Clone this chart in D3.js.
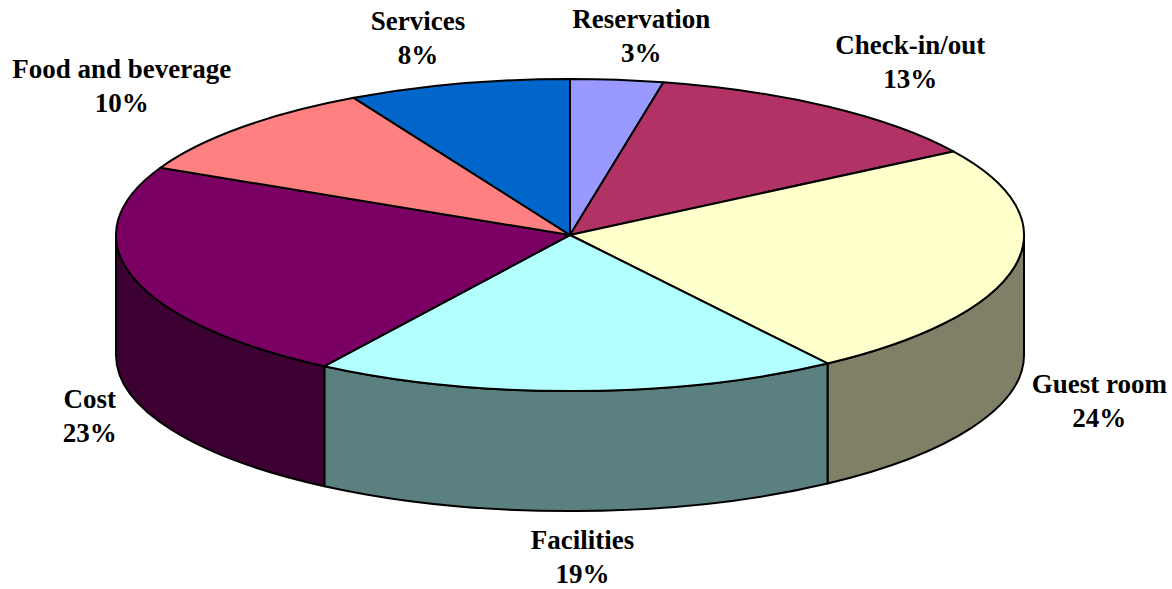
<!DOCTYPE html>
<html>
<head>
<meta charset="utf-8">
<script src="https://cdn.jsdelivr.net/npm/d3@7"></script>
<style>
  html, body { margin: 0; padding: 0; background: #fff; }
  svg { display: block; }
</style>
</head>
<body>
<div id="chart"></div>
<script>
// Data (percent shares, clockwise from 12 o'clock)
const categories = ['Reservation', 'Check-in/out', 'Guest room', 'Facilities', 'Cost', 'Food and beverage', 'Services'];
const values = [3.3, 12.7, 24.4, 18.7, 23.0, 10, 7.9];
const colors = ['#9999FF', '#B13366', '#FFFFCC', '#B3FFFF', '#7A0064', '#FF8080', '#0066CC'];

// small hand nudges for the label boxes (Excel placed them a bit loosely)
const labelNudge = [[13, 10], [16, 0], [-21, 4], [4, -8], [21, 4], [-11, -4], [-19, 7]];

const width = 1172;
const height = 589;
const cx = 570;
const cy = 235;
const rx = 454;
const ry = 156;
const depth = 120;

const svg = d3.select('#chart')
  .append('svg')
  .attr('width', width)
  .attr('height', height);

const color = d3.scaleOrdinal().domain(categories).range(colors);

const pie = d3.pie().sort(null).value(d => d.value);
const slices = pie(categories.map((c, i) => ({ label: c, value: values[i], idx: i })));

// point on the ellipse for an angle (0 = top, clockwise)
function pt(a, dy = 0) {
  return [cx + rx * Math.sin(a), cy - ry * Math.cos(a) + dy];
}

function topPath(d) {
  const p0 = pt(d.startAngle);
  const p1 = pt(d.endAngle);
  const large = d.endAngle - d.startAngle > Math.PI ? 1 : 0;
  return `M${cx},${cy}L${p0[0]},${p0[1]}A${rx},${ry} 0 ${large} 1 ${p1[0]},${p1[1]}Z`;
}

function sidePath(d) {
  const s = Math.max(d.startAngle, Math.PI / 2);
  const e = Math.min(d.endAngle, Math.PI * 1.5);
  if (e <= s) return null;
  const a0 = pt(s), a1 = pt(e), b1 = pt(e, depth), b0 = pt(s, depth);
  return `M${a0[0]},${a0[1]}A${rx},${ry} 0 0 1 ${a1[0]},${a1[1]}` +
    `L${b1[0]},${b1[1]}A${rx},${ry} 0 0 0 ${b0[0]},${b0[1]}Z`;
}

// sides (front half only), half as bright as the top
svg.append('g')
  .selectAll('path')
  .data(slices.filter(d => sidePath(d)))
  .enter()
  .append('path')
  .attr('d', sidePath)
  .attr('fill', d => {
    const c = d3.rgb(color(d.data.label));
    return d3.rgb(c.r * 0.5, c.g * 0.5, c.b * 0.5).formatHex();
  })
  .attr('stroke', '#000')
  .attr('stroke-width', 2)
  .attr('stroke-linejoin', 'round');

// tops
svg.append('g')
  .selectAll('path')
  .data(slices)
  .enter()
  .append('path')
  .attr('d', topPath)
  .attr('fill', d => color(d.data.label))
  .attr('stroke', '#000')
  .attr('stroke-width', 2)
  .attr('stroke-linejoin', 'round');

// labels: placed outside the slice middle, box edge facing the pie
const fontSize = 27;
const lineGap = 34;
const labels = svg.append('g')
  .selectAll('text')
  .data(slices)
  .enter()
  .append('text')
  .attr('text-anchor', 'middle')
  .style('font-family', '"Times New Roman", "Liberation Serif", serif')
  .style('font-weight', 'bold')
  .style('font-size', fontSize + 'px')
  .style('fill', '#000');

labels.each(function(d) {
  const t = d3.select(this);
  const i = d.data.idx;
  const l1 = t.append('tspan').text(d.data.label);
  const l2 = t.append('tspan').text(Math.round(d.data.value) + '%');
  const w = Math.max(l1.node().getComputedTextLength(), l2.node().getComputedTextLength());
  const a = (d.startAngle + d.endAngle) / 2;
  const s = Math.sin(a), c = Math.cos(a);
  let x = cx + s * (rx + 40 + w / 2);
  let y = cy - c * (ry + 20 + lineGap) + (c < 0 ? depth : 0);
  x += labelNudge[i][0];
  y += labelNudge[i][1];
  t.selectAll('tspan')
    .attr('x', x)
    .attr('y', (_, k) => y - lineGap / 2 + 9 + k * lineGap);
});
</script>
</body>
</html>
